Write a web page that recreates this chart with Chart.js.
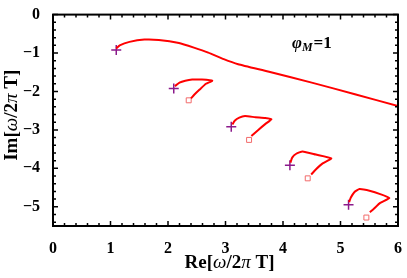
<!DOCTYPE html>
<html>
<head>
<meta charset="utf-8">
<script src="https://cdn.jsdelivr.net/npm/chart.js@4"></script>
<style>
  html, body { margin: 0; padding: 0; background: #fff; }
</style>
</head>
<body>
<canvas id="myChart" width="407" height="278"></canvas>
<script>
// main branch (lowest mode), goes off to the right edge
var mainRe = [1.10, 1.16, 1.33, 1.59, 1.84, 2.19, 2.45, 2.70, 2.97, 3.22, 3.74, 4.50, 5.25, 6.00];
var mainIm = [-0.88, -0.80, -0.71, -0.65, -0.66, -0.74, -0.86, -0.99, -1.16, -1.29, -1.48, -1.77, -2.07, -2.38];

// the four hook-shaped branches
var hook1Re = [2.12, 2.20, 2.30, 2.42, 2.59, 2.77, 2.66, 2.55, 2.46, 2.40];
var hook1Im = [-1.86, -1.77, -1.72, -1.69, -1.69, -1.72, -1.80, -1.95, -2.08, -2.18];
var hook2Re = [3.12, 3.16, 3.24, 3.34, 3.52, 3.69, 3.80, 3.69, 3.57, 3.45];
var hook2Im = [-2.86, -2.76, -2.68, -2.64, -2.67, -2.69, -2.72, -2.85, -3.00, -3.16];
var hook3Re = [4.13, 4.16, 4.23, 4.34, 4.57, 4.84, 4.69, 4.57, 4.49];
var hook3Im = [-3.85, -3.72, -3.62, -3.56, -3.64, -3.74, -3.87, -4.03, -4.16];
var hook4Re = [5.15, 5.18, 5.24, 5.33, 5.52, 5.69, 5.85, 5.69, 5.58, 5.51];
var hook4Im = [-4.88, -4.76, -4.62, -4.54, -4.59, -4.67, -4.77, -4.90, -5.05, -5.14];

// start points (+) and end points (open squares)
var plusRe = [1.10, 2.10, 3.10, 4.12, 5.14];
var plusIm = [-0.92, -1.92, -2.92, -3.92, -4.95];
var sqRe = [2.36, 3.41, 4.43, 5.45];
var sqIm = [-2.23, -3.26, -4.26, -5.28];

var xTicks = [0, 1, 2, 3, 4, 5, 6];
var yTicks = [0, -1, -2, -3, -4, -5];

var serif = '"Liberation Serif", "Times New Roman", serif';

function pts(re, im) {
  return re.map(function (v, i) { return { x: v, y: im[i] }; });
}

function curve(re, im) {
  return {
    data: pts(re, im),
    showLine: true,
    borderColor: '#ff0000',
    borderWidth: 2,
    pointRadius: 0,
    tension: 0.15,
  };
}

// draw text made of pieces with different fonts
function richText(ctx, parts, x, y, size) {
  var w = 0;
  parts.forEach(function (p) {
    ctx.font = (p.s || 'bold') + ' ' + size + 'px ' + serif;
    w += ctx.measureText(p.t).width;
  });
  var cx = x - w / 2;
  parts.forEach(function (p) {
    ctx.font = (p.s || 'bold') + ' ' + size + 'px ' + serif;
    ctx.fillText(p.t, cx, y);
    cx += ctx.measureText(p.t).width;
  });
}

var frame = {
  id: 'frame',
  afterDraw: function (chart) {
    var ctx = chart.ctx;
    var a = chart.chartArea;
    var xs = chart.scales.x, ys = chart.scales.y;
    ctx.save();
    ctx.strokeStyle = '#000';
    ctx.lineWidth = 2;
    ctx.strokeRect(a.left, a.top, a.right - a.left, a.bottom - a.top);

    // inward ticks on all four sides
    ctx.lineWidth = 1.5;
    ctx.beginPath();
    for (var i = 0; i <= 30; i++) {
      var v = i * 0.2;
      var px = xs.getPixelForValue(v);
      var len = (i % 5 === 0) ? 5 : 3;
      ctx.moveTo(px, a.bottom); ctx.lineTo(px, a.bottom - len);
      ctx.moveTo(px, a.top); ctx.lineTo(px, a.top + len);
    }
    for (var j = 0; j <= 27; j++) {
      var vy = -j * 0.2;
      var py = ys.getPixelForValue(vy);
      var ly = (j % 5 === 0) ? 5 : 3;
      ctx.moveTo(a.left, py); ctx.lineTo(a.left + ly, py);
      ctx.moveTo(a.right, py); ctx.lineTo(a.right - ly, py);
    }
    ctx.stroke();

    // axis titles
    ctx.fillStyle = '#000';
    ctx.textBaseline = 'middle';
    ctx.textAlign = 'left';
    richText(ctx, [{ t: 'Re[' }, { t: 'ω', s: 'italic' }, { t: '/2' }, { t: 'π', s: 'italic' }, { t: ' T]' }],
      (a.left + a.right) / 2 + 4, 263, 19);
    ctx.save();
    ctx.translate(12, (a.top + a.bottom) / 2 - 5);
    ctx.rotate(-Math.PI / 2);
    richText(ctx, [{ t: 'Im[' }, { t: 'ω', s: 'italic' }, { t: '/2' }, { t: 'π', s: 'italic' }, { t: ' T]' }],
      0, 0, 19);
    ctx.restore();

    // phi_M = 1 label
    var lx = 292, ly2 = 44;
    ctx.font = 'italic bold 17px ' + serif;
    ctx.fillText('φ', lx, ly2);
    var w1 = ctx.measureText('φ').width;
    ctx.font = 'italic bold 12px ' + serif;
    ctx.fillText('M', lx + w1, ly2 + 4);
    var w2 = ctx.measureText('M').width;
    ctx.font = 'bold 17px ' + serif;
    ctx.fillText('=1', lx + w1 + w2 + 1, ly2);
    ctx.restore();
  }
};

var ctx = document.getElementById('myChart').getContext('2d');
var chart = new Chart(ctx, {
  type: 'scatter',
  data: {
    datasets: [
      curve(mainRe, mainIm),
      curve(hook1Re, hook1Im),
      curve(hook2Re, hook2Im),
      curve(hook3Re, hook3Im),
      curve(hook4Re, hook4Im),
      {
        data: pts(plusRe, plusIm),
        pointStyle: 'cross',
        pointRadius: 5,
        pointBorderWidth: 1.5,
        borderColor: '#8b1a8b',
        backgroundColor: '#8b1a8b',
      },
      {
        data: pts(sqRe, sqIm),
        pointStyle: 'rect',
        pointRadius: 3.5,
        pointBorderWidth: 1,
        borderColor: '#f26a6a',
        backgroundColor: 'rgba(255,255,255,0)',
      },
    ]
  },
  options: {
    responsive: false,
    animation: false,
    layout: { padding: { left: 0, top: 11, right: 8, bottom: 0 } },
    plugins: { legend: { display: false }, tooltip: { enabled: false } },
    scales: {
      x: {
        type: 'linear',
        min: 0, max: 6,
        afterBuildTicks: function (s) { s.ticks = xTicks.map(function (v) { return { value: v }; }); },
        afterFit: function (s) { s.height = 52; },
        grid: { display: false },
        border: { display: false },
        ticks: { color: '#000', padding: 5, font: { family: serif, size: 16, weight: 'bold' } },
      },
      y: {
        type: 'linear',
        min: -5.5, max: 0,
        afterBuildTicks: function (s) { s.ticks = yTicks.map(function (v) { return { value: v }; }); },
        afterFit: function (s) { s.width = 53; },
        grid: { display: false },
        border: { display: false },
        ticks: {
          color: '#000', padding: 5, font: { family: serif, size: 16, weight: 'bold' },
          callback: function (v) { return String(v).replace('-', '\u2212'); }
        },
      }
    }
  },
  plugins: [frame]
});
</script>
</body>
</html>
